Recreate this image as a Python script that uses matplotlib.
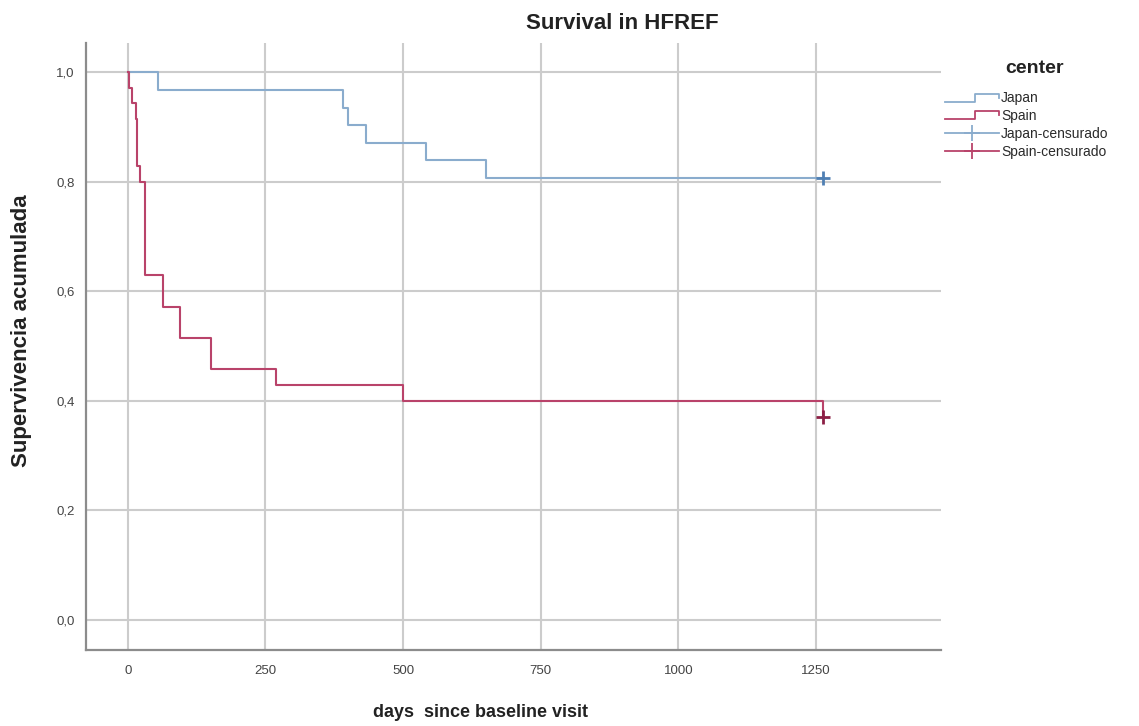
import numpy as np
import matplotlib
matplotlib.use("Agg")
import matplotlib.pyplot as plt
from matplotlib.lines import Line2D
from matplotlib.legend_handler import HandlerBase
from matplotlib.ticker import FuncFormatter

plt.rcParams['font.family'] = ['Liberation Sans', 'DejaVu Sans']

# Kaplan-Meier steps
japan_days = [0, 54, 391, 400, 432, 541, 650, 1262]
japan_surv = [1.0, 0.968, 0.935, 0.903, 0.871, 0.839, 0.806, 0.806]
spain_days = [0, 2, 7, 14, 16, 22, 31, 63, 94, 151, 270, 499, 1262]
spain_surv = [1.0, 0.971, 0.943, 0.914, 0.829, 0.800, 0.629, 0.571, 0.514,
              0.457, 0.429, 0.400, 0.371]
# censored observations
japan_cens_days = [1262]
japan_cens_surv = [0.806]
spain_cens_days = [1262]
spain_cens_surv = [0.371]

x_ticks = [0, 250, 500, 750, 1000, 1250]
y_ticks = [0.0, 0.2, 0.4, 0.6, 0.8, 1.0]

c_japan = '#8aaccd'
c_japan_m = '#4f7fb3'
c_spain = '#b9436a'
c_spain_m = '#8c1f45'


class StepHandler(HandlerBase):
    def create_artists(self, legend, orig, xd, yd, width, height, fontsize, trans):
        xs = np.array([0.0, 0.55, 0.55, 1.0, 1.0]) * width - xd
        ys = np.array([0.1, 0.1, 0.9, 0.9, 0.5]) * height - yd
        ln = Line2D(xs, ys, color=orig.get_color(), lw=1.3, transform=trans)
        return [ln]


fig = plt.figure(figsize=(11.39, 7.26), dpi=100)
ax = fig.add_axes([0.0755, 0.1047, 0.7507, 0.8361])

ax.grid(True, color='#cccccc', lw=1.5)
ax.set_axisbelow(True)

l_jp, = ax.step(japan_days, japan_surv, where='post', color=c_japan, lw=1.5)
l_sp, = ax.step(spain_days, spain_surv, where='post', color=c_spain, lw=1.5)
m_jp, = ax.plot(japan_cens_days, japan_cens_surv, ls='none', marker='+',
                ms=10, mew=2, color=c_japan_m)
m_sp, = ax.plot(spain_cens_days, spain_cens_surv, ls='none', marker='+',
                ms=10, mew=2, color=c_spain_m)

ax.set_xlim(-76, 1477)
ax.set_ylim(-0.055, 1.053)
ax.set_xticks(x_ticks)
ax.set_yticks(y_ticks)
ax.yaxis.set_major_formatter(FuncFormatter(lambda v, p: f"{v:.1f}".replace('.', ',')))
ax.tick_params(length=0, labelsize=9.5, labelcolor='#444444')
ax.tick_params(axis='x', pad=11)
ax.tick_params(axis='y', pad=8)

for s in ['top', 'right']:
    ax.spines[s].set_visible(False)
for s in ['left', 'bottom']:
    ax.spines[s].set_color('#8c8c8c')
    ax.spines[s].set_linewidth(1.6)

fig.text(0.546, 0.968, 'Survival in HFREF', ha='center', va='center',
         fontsize=16, fontweight='bold', color='#222222')
fig.text(0.422, 0.019, 'days  since baseline visit', ha='center', va='center',
         fontsize=13, fontweight='bold', color='#222222')
fig.text(0.019, 0.545, 'Supervivencia acumulada', ha='center', va='center',
         rotation=90, fontsize=16, fontweight='bold', color='#222222')

# legend
fig.text(0.908, 0.906, 'center', ha='center', va='center',
         fontsize=14, fontweight='bold', color='#222222')
h_jp = Line2D([], [], color=c_japan, lw=1.3, marker='+', ms=12, mew=1.3, ls='-')
h_sp = Line2D([], [], color=c_spain, lw=1.3, marker='+', ms=12, mew=1.3, ls='-')
leg = fig.legend([l_jp, l_sp, h_jp, h_sp],
                 ['Japan', 'Spain', 'Japan-censurado', 'Spain-censurado'],
                 loc='upper left', bbox_to_anchor=(0.8297, 0.874),
                 handler_map={l_jp: StepHandler(), l_sp: StepHandler()},
                 frameon=False, fontsize=10,
                 handlelength=3.9, handletextpad=0.15, labelspacing=0.27,
                 borderaxespad=0, borderpad=0)
for t in leg.get_texts():
    t.set_color('#2a2a2a')

fig.savefig('out.png', dpi=100)
